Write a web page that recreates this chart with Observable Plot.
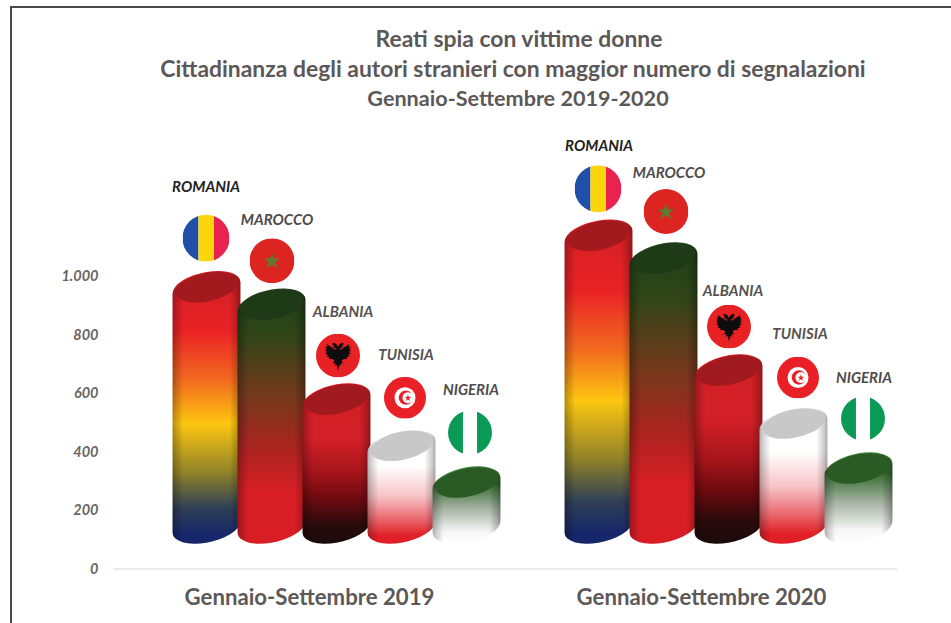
<!DOCTYPE html>
<html lang="it">
<head>
<meta charset="utf-8">
<script src="https://cdn.jsdelivr.net/npm/d3@7"></script>
<script src="https://cdn.jsdelivr.net/npm/@observablehq/plot@0.6"></script>
<style>
  html,body{margin:0;padding:0;background:#fff;width:951px;height:623px;overflow:hidden}
  #page{position:relative;width:951px;height:623px}
  #frame{position:absolute;left:10px;top:6px;right:-4px;bottom:-4px;border:2px solid #4a4a4a;pointer-events:none}
  #head{height:118px;box-sizing:border-box;padding-top:23px;font:bold 22.9px Lato,"Open Sans",sans-serif;color:#5d5858;text-align:center}
  #head div{line-height:30px;white-space:nowrap;position:relative}
  #head div:last-child{font-size:21.6px}
  svg{display:block}
</style>
</head>
<body>
<div id="page">
  <div id="head"></div>
  <div id="chart"></div>
  <div id="frame"></div>
</div>
<script>
const titleLines = [
  "Reati spia con vittime donne",
  "Cittadinanza degli autori stranieri con maggior numero di segnalazioni",
  "Gennaio-Settembre 2019-2020"
];
const periods = ["Gennaio-Settembre 2019", "Gennaio-Settembre 2020"];
const countries = ["ROMANIA", "MAROCCO", "ALBANIA", "TUNISIA", "NIGERIA"];
const values2019 = [960, 900, 576, 418, 292];
const values2020 = [1136, 1058, 675, 494, 340];
const tickValues = [0, 200, 400, 600, 800, 1000];
const tickLabels = ["0", "200", "400", "600", "800", "1.000"];
const chartBase = 142; // value at which the 3D cylinders stand above the floor

// Annotation nudges, in pixels, relative to each cylinder's top
const labelLift = [[101, 86, 88, 92, 93], [91, 86, 80, 90, 91]];
const labelShift = [[-1, 5, 6, 4, 4], [0, 5, 4, 6, 5]];
const flagLift = [[50, 45, 45, 49, 51], [48, 48, 45, 47, 51]];
const flagShift = [[-1, 0, 1, 3, 3], [-1, 2, 0, 4, 4]];
const flagRadius = [23.5, 22.5, 22, 21, 22];

// Colours per country
const capColors = ["#a21a1e", "#1f3a16", "#a01a1f", "#c8c8c8", "#2a5b24"];
const labelColors = ["#222222", "#4f4b4b", "#565252", "#565252", "#4f4b4b"];
const bodyStops = [
  [[0, "#cf1f24"], [.22, "#ea2226"], [.4, "#f26a1f"], [.56, "#fdc610"], [.74, "#8f8229"], [.87, "#2f3f55"], [.97, "#16266b"]],
  [[0, "#1f4018"], [.18, "#2f4518"], [.42, "#74391c"], [.62, "#a9241f"], [.8, "#d81f26"], [1, "#d81e24"]],
  [[0, "#d41f26"], [.35, "#d31f27"], [.55, "#a8151c"], [.72, "#6e0a0f"], [.88, "#2a0b0c"], [1, "#1a0a0a"]],
  [[0, "#ffffff"], [.32, "#ffffff"], [.58, "#f7c4c8"], [.78, "#ea6a70"], [.93, "#e01f26"], [1, "#df1f26"]],
  [[0, "#3f8a38"], [.22, "#33692d"], [.55, "#a6b4a4"], [.85, "#f6f6f6"], [1, "#ffffff"]]
];

const flagSvg = s => "data:image/svg+xml," + encodeURIComponent(`<svg xmlns="http://www.w3.org/2000/svg" viewBox="0 0 100 100">${s}</svg>`);
const flags = [
  flagSvg(`<rect width="34" height="100" fill="#1f4fa8"/><rect x="34" width="33" height="100" fill="#fcd60a"/><rect x="67" width="33" height="100" fill="#e8234f"/>`),
  flagSvg(`<rect width="100" height="100" fill="#dc2420"/><polygon points="50,33 55,45 68,45 57.5,53 62,67 50,58 38,67 42.5,53 32,45 45,45" fill="#5f7a30"/>`),
  flagSvg(`<rect width="100" height="100" fill="#e82124"/><path fill="#0d0d0d" d="M50 30 L46 24 L40 21 L36 24 L41 27 L38 30 L44 33 L47 38 L40 34 L24 24 L26 30 L21 30 L25 36 L20 37 L25 42 L21 45 L27 48 L24 52 L31 54 L29 58 L37 58 L42 62 L38 68 L44 67 L43 74 L47 71 L50 84 L53 71 L57 74 L56 67 L62 68 L58 62 L63 58 L71 58 L69 54 L76 52 L73 48 L79 45 L75 42 L80 37 L75 36 L79 30 L74 30 L76 24 L60 34 L53 38 L56 33 L62 30 L59 27 L64 24 L60 21 L54 24 Z"/>`),
  flagSvg(`<rect width="100" height="100" fill="#ea2027"/><circle cx="50" cy="50" r="25" fill="#fff"/><circle cx="52" cy="50" r="17" fill="#ea2027"/><circle cx="57" cy="50" r="13" fill="#fff"/><polygon points="57,42 59,48 65,48 60,52 62,58 57,54 52,58 54,52 49,48 55,48" fill="#ea2027"/>`),
  flagSvg(`<rect width="100" height="100" fill="#fff"/><rect width="34" height="100" fill="#0a9a55"/><rect x="66" width="34" height="100" fill="#0a9a55"/>`)
];

// Tidy table built from the arrays above
const rows = [values2019, values2020].flatMap((vals, p) =>
  vals.map((value, i) => ({period: periods[p], p, i, country: countries[i], value, base: chartBase})));

// Cylinder geometry
const tilt = -12;
const theta = tilt * Math.PI / 180;
const ry = 15.5;
function ellipseSymbol(a, b) {
  const k = 0.5523, c = Math.cos(theta), s = Math.sin(theta);
  const R = (x, y) => [x * c - y * s, x * s + y * c];
  return {draw(p) {
    p.moveTo(...R(a, 0));
    p.bezierCurveTo(...R(a, k * b), ...R(k * a, b), ...R(0, b));
    p.bezierCurveTo(...R(-k * a, b), ...R(-a, k * b), ...R(-a, 0));
    p.bezierCurveTo(...R(-a, -k * b), ...R(-k * a, -b), ...R(0, -b));
    p.bezierCurveTo(...R(k * a, -b), ...R(a, -k * b), ...R(a, 0));
    p.closePath();
  }};
}
// Turns the rectangle of a bar into the outline of a cylinder
function asCylinder(index, scales, values, dimensions, context, next) {
  const g = next(index, scales, values, dimensions, context);
  g.querySelectorAll("rect").forEach(rect => {
    const x = +rect.getAttribute("x"), y = +rect.getAttribute("y");
    const w = +rect.getAttribute("width"), h = +rect.getAttribute("height");
    const hw = w / 2;
    const c = Math.cos(theta), s = Math.sin(theta);
    const a = Math.sqrt((hw * hw - ry * ry * s * s) / (c * c));
    const lean = (a * a - ry * ry) * Math.abs(s) * c / hw;
    const path = document.createElementNS("http://www.w3.org/2000/svg", "path");
    for (const at of rect.attributes) if (!["x", "y", "width", "height"].includes(at.name)) path.setAttribute(at.name, at.value);
    path.setAttribute("d",
      `M${x},${y + lean}A${a},${ry} ${tilt} 0 1 ${x + w},${y - lean}` +
      `L${x + w},${y + h - lean}A${a},${ry} ${tilt} 0 1 ${x},${y + h + lean}Z`);
    rect.replaceWith(path);
  });
  return g;
}

const common = {fx: "period", x: "country"};
const marks = [
  Plot.ruleY([0], {stroke: "#efebe7", strokeWidth: 2}),
  Plot.axisY({ticks: tickValues, tickFormat: d => tickLabels[tickValues.indexOf(d)], anchor: "left", label: null,
    tickSize: 0, tickPadding: 15, fontSize: 14.5, fontStyle: "italic", fontWeight: "bold", fill: "#6a6464"}),
  Plot.axisFx({anchor: "bottom", label: null, tickSize: 0, tickPadding: 20, fontSize: 22.2, fontWeight: "bold", fill: "#5d5858"}),
  ...rows.flatMap(d => [
    Plot.barY([d], {...common, y1: "base", y2: "value", fill: `url(#body-${d.i})`, insetLeft: -1.4, insetRight: -1.4, render: asCylinder}),
    Plot.barY([d], {...common, y1: "base", y2: "value", fill: "url(#shade)", insetLeft: -1.4, insetRight: -1.4, render: asCylinder}),
    Plot.dot([d], {...common, y: "value", dy: -1, symbol: ellipseSymbol(32, 14), fill: capColors[d.i], stroke: "none"}),
    Plot.image([d], {...common, y: "value", src: flags[d.i], width: 2 * flagRadius[d.i], height: 2 * flagRadius[d.i], r: flagRadius[d.i],
      dx: flagShift[d.p][d.i], dy: -flagLift[d.p][d.i]}),
    Plot.text([d], {...common, y: "value", text: "country", dx: labelShift[d.p][d.i], dy: -labelLift[d.p][d.i],
      fontSize: 15, fontStyle: "italic", fontWeight: "bold", fill: labelColors[d.i]})
  ])
];

const plot = Plot.plot({
  width: 951, height: 505,
  marginLeft: 113, marginRight: 54, marginTop: 158, marginBottom: 54.5,
  style: {fontFamily: 'Lato, "Open Sans", sans-serif', background: "transparent", overflow: "visible"},
  x: {type: "band", domain: countries, paddingInner: 0, paddingOuter: 0.5, align: 0.915, axis: null},
  y: {domain: [0, 1000], axis: null},
  fx: {domain: periods, padding: 0, axis: null},
  marks
});

// Gradients
const defs = d3.select(plot).insert("defs", ":first-child");
bodyStops.forEach((stops, i) => {
  const g = defs.append("linearGradient").attr("id", `body-${i}`).attr("x1", 0).attr("x2", 0).attr("y1", 0).attr("y2", 1);
  stops.forEach(([o, c]) => g.append("stop").attr("offset", o).attr("stop-color", c));
});
const shade = defs.append("linearGradient").attr("id", "shade");
[[0, .30], [.05, .18], [.16, 0], [.84, 0], [.95, .2], [1, .34]].forEach(([o, a]) =>
  shade.append("stop").attr("offset", o).attr("stop-color", "#000").attr("stop-opacity", a));

document.getElementById("chart").append(plot);
const shifts = [3, -3, 2];
const head = document.getElementById("head");
titleLines.forEach((t, i) => {
  const el = document.createElement("div");
  el.textContent = t;
  el.style.left = (516 - 951 / 2 + shifts[i]) + "px";
  head.append(el);
});
</script>
</body>
</html>
